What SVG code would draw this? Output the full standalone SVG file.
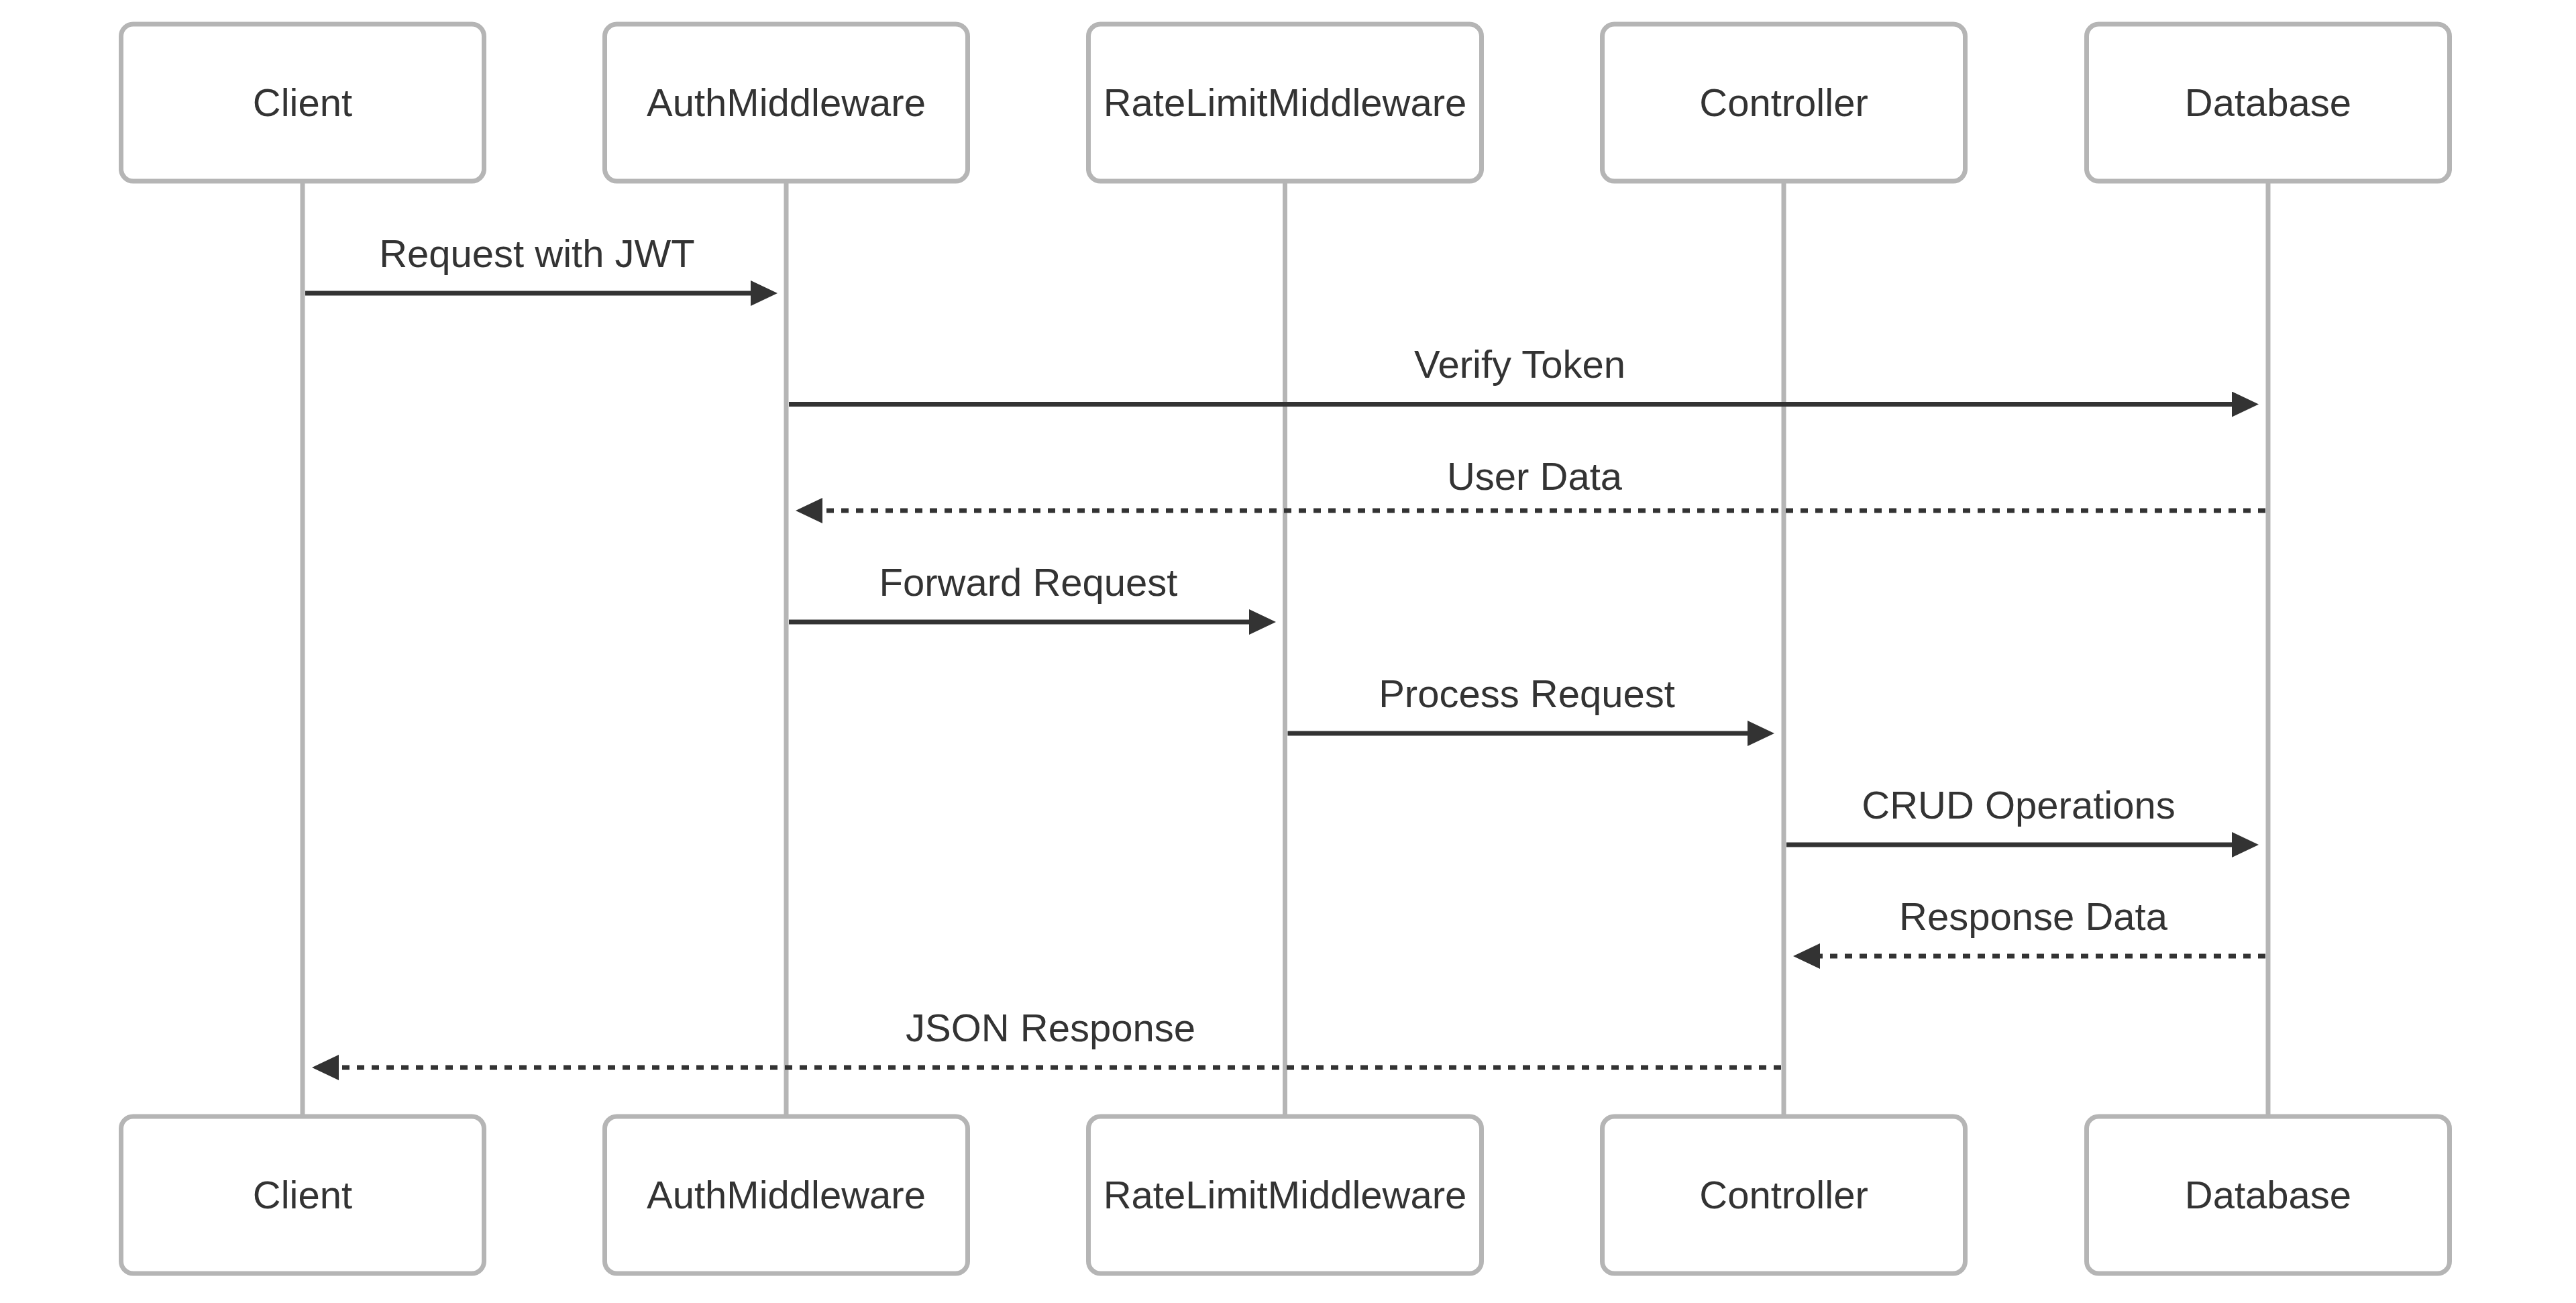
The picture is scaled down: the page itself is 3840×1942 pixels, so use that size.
<svg xmlns="http://www.w3.org/2000/svg" width="3840" height="1942" viewBox="0 0 3840 1942">
<style>
.box{fill:#ffffff;stroke:#b5b5b5;stroke-width:7}
.life{stroke:#b5b5b5;stroke-width:7}
.lbl{font-family:"Liberation Sans",Arial,Helvetica,sans-serif;font-size:58px;fill:#333333;text-anchor:middle}
.msg{stroke:#333333;stroke-width:7;fill:none;marker-end:url(#arrow)}
.dash{stroke-dasharray:11,11}
</style>
<defs>
<marker id="arrow" viewBox="0 0 40 38" refX="20" refY="19" markerUnits="userSpaceOnUse" markerWidth="40" markerHeight="38" orient="auto">
<path d="M0,0 L40,19 L0,38 z" fill="#333333"/>
</marker>
</defs>
<rect width="3840" height="1942" fill="#ffffff"/>
<g id="lifelines">
<line class="life" x1="451" y1="270" x2="451" y2="1664"/>
<line class="life" x1="1172" y1="270" x2="1172" y2="1664"/>
<line class="life" x1="1915.5" y1="270" x2="1915.5" y2="1664"/>
<line class="life" x1="2659" y1="270" x2="2659" y2="1664"/>
<line class="life" x1="3381" y1="270" x2="3381" y2="1664"/>
</g>
<g id="client-top"><rect class="box" x="180.5" y="36" width="541" height="234" rx="18"/><text class="lbl" x="451" y="173">Client</text></g>
<g id="auth-top"><rect class="box" x="901.5" y="36" width="541" height="234" rx="18"/><text class="lbl" x="1172" y="173">AuthMiddleware</text></g>
<g id="ratelimit-top"><rect class="box" x="1622.5" y="36" width="586" height="234" rx="18"/><text class="lbl" x="1915.5" y="173">RateLimitMiddleware</text></g>
<g id="controller-top"><rect class="box" x="2388.5" y="36" width="541" height="234" rx="18"/><text class="lbl" x="2659" y="173">Controller</text></g>
<g id="database-top"><rect class="box" x="3110.5" y="36" width="541" height="234" rx="18"/><text class="lbl" x="3381" y="173">Database</text></g>
<g id="client-bottom"><rect class="box" x="180.5" y="1664" width="541" height="234" rx="18"/><text class="lbl" x="451" y="1801">Client</text></g>
<g id="auth-bottom"><rect class="box" x="901.5" y="1664" width="541" height="234" rx="18"/><text class="lbl" x="1172" y="1801">AuthMiddleware</text></g>
<g id="ratelimit-bottom"><rect class="box" x="1622.5" y="1664" width="586" height="234" rx="18"/><text class="lbl" x="1915.5" y="1801">RateLimitMiddleware</text></g>
<g id="controller-bottom"><rect class="box" x="2388.5" y="1664" width="541" height="234" rx="18"/><text class="lbl" x="2659" y="1801">Controller</text></g>
<g id="database-bottom"><rect class="box" x="3110.5" y="1664" width="541" height="234" rx="18"/><text class="lbl" x="3381" y="1801">Database</text></g>
<g id="connectors">
<line class="msg" x1="455" y1="437" x2="1139" y2="437"/>
<text class="lbl" x="800.5" y="397.5">Request with JWT</text>
<line class="msg" x1="1176" y1="602.5" x2="3347" y2="602.5"/>
<text class="lbl" x="2265.5" y="563">Verify Token</text>
<line class="msg dash" x1="3377" y1="761" x2="1206" y2="761"/>
<text class="lbl" x="2287.5" y="729.5">User Data</text>
<line class="msg" x1="1176" y1="927" x2="1882" y2="927"/>
<text class="lbl" x="1533" y="887.5">Forward Request</text>
<line class="msg" x1="1919.5" y1="1093" x2="2625" y2="1093"/>
<text class="lbl" x="2276" y="1053.5">Process Request</text>
<line class="msg" x1="2663" y1="1259" x2="3347" y2="1259"/>
<text class="lbl" x="3009" y="1219.5">CRUD Operations</text>
<line class="msg dash" x1="3377" y1="1425" x2="2693" y2="1425"/>
<text class="lbl" x="3031" y="1385.5">Response Data</text>
<line class="msg dash" x1="2655" y1="1591" x2="485" y2="1591"/>
<text class="lbl" x="1566" y="1551.5">JSON Response</text>
</g>
</svg>
